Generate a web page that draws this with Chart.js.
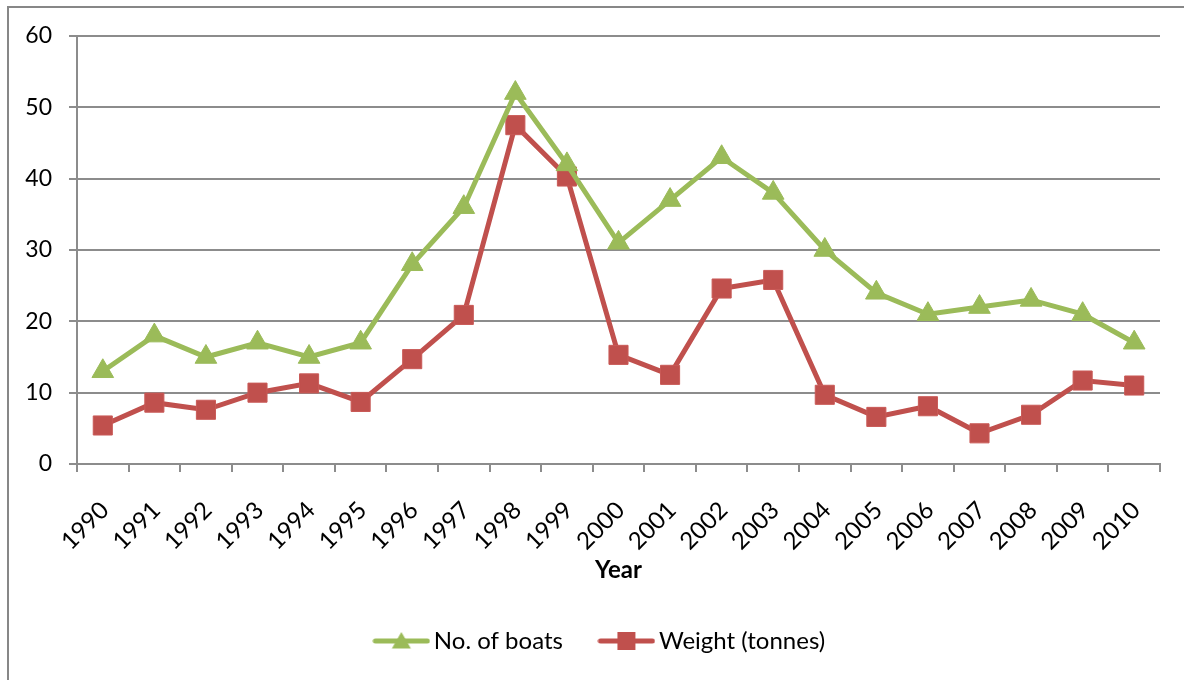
<!DOCTYPE html>
<html>
<head>
<meta charset="utf-8">
<script src="https://cdn.jsdelivr.net/npm/chart.js@4.4.1/dist/chart.umd.min.js"></script>
<style>
  html, body { margin: 0; padding: 0; background: #fff; }
  #wrap { width: 1184px; height: 680px; }
</style>
</head>
<body>
<div id="wrap"><canvas id="c" width="1184" height="680"></canvas></div>
<script>
// Catch by year
const years = ['1990','1991','1992','1993','1994','1995','1996','1997','1998','1999','2000',
               '2001','2002','2003','2004','2005','2006','2007','2008','2009','2010'];
const boats = [13, 18, 15, 17, 15, 17, 28, 36, 52, 42, 31, 37, 43, 38, 30, 24, 21, 22, 23, 21, 17];
const weightTonnes = [5.4, 8.6, 7.6, 10.0, 11.3, 8.7, 14.7, 20.9, 47.5, 40.3, 15.3, 12.5,
                      24.6, 25.8, 9.7, 6.6, 8.1, 4.3, 6.9, 11.7, 11.0];
const yTicks = [0, 10, 20, 30, 40, 50, 60];

const GREEN = '#9BBB59';
const RED = '#C0504D';
const GRID = '#8c8c8c';
const FONT = 'Lato, "Open Sans", sans-serif';

// Legend swatch: short line with the series marker in the middle
function swatch(color, shape) {
  const c = document.createElement('canvas');
  c.width = 58; c.height = 22;
  const g = c.getContext('2d');
  g.strokeStyle = color; g.lineWidth = 5; g.lineCap = 'round';
  g.beginPath(); g.moveTo(3, 11); g.lineTo(55, 11); g.stroke();
  g.fillStyle = color;
  if (shape === 'triangle') {
    g.beginPath(); g.moveTo(29, 2); g.lineTo(38.5, 18.5); g.lineTo(19.5, 18.5); g.closePath(); g.fill();
  } else {
    g.fillRect(20, 2, 18, 18);
  }
  return c;
}
const swatches = [swatch(GREEN, 'triangle'), swatch(RED, 'rect')];

// Outer frame of the chart
const framePlugin = {
  id: 'frame',
  beforeDraw(chart) {
    const ctx = chart.ctx;
    ctx.save();
    ctx.fillStyle = '#fff';
    ctx.fillRect(0, 0, chart.width, chart.height);
    ctx.strokeStyle = '#878787';
    ctx.lineWidth = 2;
    ctx.strokeRect(8, 7, chart.width + 20, chart.height + 20);
    ctx.restore();
  }
};

// Place the legend row under the axis title
const legendPlacement = {
  id: 'legendPlacement',
  afterLayout(chart) {
    const lg = chart.legend;
    if (!lg) return;
    const h = lg.height;
    lg.left = 46; lg.right = 1160; lg.width = lg.right - lg.left;
    lg.top = 586; lg.bottom = lg.top + h;
  }
};

new Chart(document.getElementById('c'), {
  type: 'line',
  data: {
    labels: years,
    datasets: [
      {
        label: 'No. of boats',
        data: boats,
        borderColor: GREEN,
        backgroundColor: GREEN,
        borderWidth: 5,
        pointStyle: 'triangle',
        pointRadius: 12.5,
        pointBorderWidth: 1,
        pointBorderColor: GREEN,
        tension: 0
      },
      {
        label: 'Weight (tonnes)',
        data: weightTonnes,
        borderColor: RED,
        backgroundColor: RED,
        borderWidth: 5,
        pointStyle: 'rect',
        pointRadius: 13.5,
        pointBorderWidth: 1,
        pointBorderColor: '#c95a57',
        tension: 0
      }
    ]
  },
  options: {
    responsive: false,
    animation: false,
    devicePixelRatio: 1,
    layout: { padding: { top: 36, left: 0, right: 24, bottom: 0 } },
    scales: {
      x: {
        type: 'category',
        offset: true,
        grid: { offset: true, drawOnChartArea: false, tickLength: 8, color: GRID, lineWidth: 2 },
        border: { color: GRID, width: 2 },
        ticks: {
          autoSkip: false, maxRotation: 45, minRotation: 45, padding: 24, labelOffset: 2,
          color: '#000', font: { family: FONT, size: 24 }
        },
        title: {
          display: true, text: 'Year', color: '#000',
          font: { family: FONT, size: 24, weight: 'bold' },
          padding: { top: 0, bottom: 18 }
        },
        afterFit(scale) { scale.height = 139; }
      },
      y: {
        min: 0, max: 60,
        afterBuildTicks(scale) { scale.ticks = yTicks.map(v => ({ value: v })); },
        grid: { color: GRID, lineWidth: 2, tickLength: 8 },
        border: { color: GRID, width: 2 },
        ticks: { padding: 17, color: '#000', font: { family: FONT, size: 23 } },
        afterFit(scale) { scale.width = 77; }
      }
    },
    plugins: {
      legend: {
        position: 'bottom',
        labels: {
          usePointStyle: true,
          pointStyleWidth: 41,
          padding: 43,
          color: '#000',
          font: { family: FONT, size: 24 },
          generateLabels(chart) {
            return chart.data.datasets.map((ds, i) => ({
              text: ds.label,
              pointStyle: swatches[i],
              fillStyle: ds.borderColor,
              strokeStyle: ds.borderColor,
              lineWidth: 0,
              hidden: false,
              datasetIndex: i
            }));
          }
        }
      },
      tooltip: { enabled: false }
    }
  },
  plugins: [framePlugin, legendPlacement]
});
</script>
</body>
</html>
